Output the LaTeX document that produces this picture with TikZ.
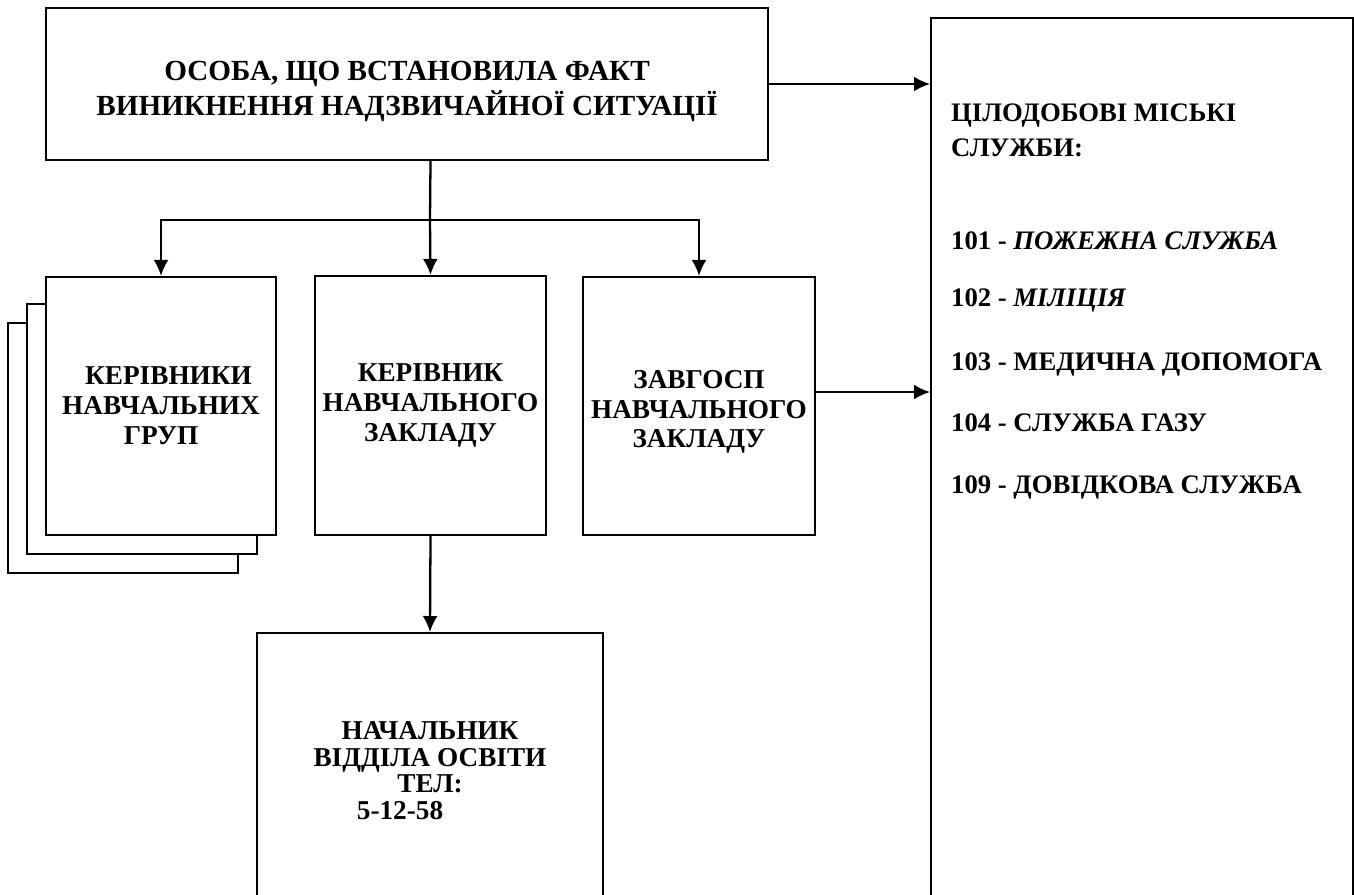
\documentclass[tikz,border=0pt]{standalone}
\usepackage{fontspec}
\setmainfont{Liberation Serif}
\usetikzlibrary{arrows.meta,positioning}

\begin{document}
\begin{tikzpicture}[x=0.02cm,y=-0.02cm,line width=1.3pt,>={Latex[length=3.2mm,width=3mm]},
   box/.style={draw,fill=white,inner sep=0pt,align=center,font=\bfseries\fontsize{15.5}{17}\selectfont},
   srv/.style={anchor=base west,inner sep=0pt,font=\bfseries\fontsize{15.2}{17}\selectfont}]
   \useasboundingbox (0,0) rectangle (1354,894);
   \node[box,minimum width=14.44cm,minimum height=3.04cm,font=\bfseries\fontsize{16.6}{19.8}\selectfont] (osoba) at (407,84) {\rule{0pt}{6.7mm}ОСОБА, ЩО ВСТАНОВИЛА ФАКТ\\ВИНИКНЕННЯ НАДЗВИЧАЙНОЇ СИТУАЦІЇ};
   \node[box,anchor=north west,minimum width=8.44cm,minimum height=17.9cm] (sluzhby) at (930,17) {};
   \node[srv] (head1) at (950,121) {ЦІЛОДОБОВІ МІСЬКІ};
   \node[srv] (head2) at (950,156) {СЛУЖБИ:};
   \node[srv] (t101) at (950,249) {101 - \textit{ПОЖЕЖНА СЛУЖБА}};
   \node[srv] (t102) at (950,306) {102 - \textit{МІЛІЦІЯ}};
   \node[srv] (t103) at (950,370) {103 - МЕДИЧНА ДОПОМОГА};
   \node[srv] (t104) at (950,431) {104 - СЛУЖБА ГАЗУ};
   \node[srv] (t109) at (950,493) {109 - ДОВІДКОВА СЛУЖБА};
   \node[box,minimum width=4.61cm,minimum height=5cm] (grupyC) at (123,448.3) {};
   \node[box,minimum width=4.61cm,minimum height=5cm] (grupyB) at (142,429.3) {};
   \node[box,minimum width=4.61cm,minimum height=5.16cm] (grupy) at (161,406) {\hspace*{0.3cm}КЕРІВНИКИ\\НАВЧАЛЬНИХ\\ГРУП};
   \node[box,minimum width=4.62cm,minimum height=5.18cm] (kerivnyk) at (430.5,405.5) {КЕРІВНИК\\НАВЧАЛЬНОГО\\ЗАКЛАДУ};
   \node[box,minimum width=4.64cm,minimum height=5.16cm] (zavgosp) at (699,406) {\rule{0pt}{6mm}ЗАВГОСП\\НАВЧАЛЬНОГО\\ЗАКЛАДУ};
   \node[box,anchor=north,minimum width=6.92cm,minimum height=5.5cm,font=\bfseries\fontsize{15.5}{15.3}\selectfont] (nachalnyk) at (430,632) {НАЧАЛЬНИК\\ВІДДІЛА ОСВІТИ\\ТЕЛ:\\5-12-58\hspace*{1.2cm}};
   \coordinate (split) at (430,220);
   \coordinate (zout) at ([yshift=0.28cm]zavgosp.east);
   \draw (kerivnyk.north |- osoba.south) -- (split);
   \draw[->] (split) -| (grupy.north);
   \draw[->] (split) -| (zavgosp.north);
   \path[->]
        (split) edge node {} (kerivnyk.north)
        (osoba.east) edge node {} (osoba.east -| sluzhby.west)
        (zout) edge node {} (zout -| sluzhby.west)
        (kerivnyk.south) edge node {} (nachalnyk.north)
        ;
\end{tikzpicture}
\end{document}
